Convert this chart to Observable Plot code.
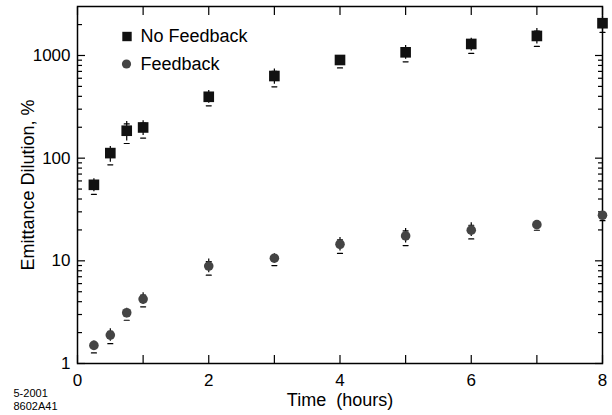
<!DOCTYPE html>
<html><head><meta charset="utf-8">
<script src="https://cdn.jsdelivr.net/npm/d3@7"></script>
<script src="https://cdn.jsdelivr.net/npm/@observablehq/plot@0.6"></script>
<style>
body{margin:0;background:#fff;}
#chart{width:612px;height:415px;}
#chart svg{font-family:"Liberation Sans",Arial,Helvetica,sans-serif;}
</style>
</head><body><div id="chart"></div>
<script>
// Data (time in hours, emittance dilution in %)
const times = [0.25, 0.5, 0.75, 1, 2, 3, 4, 5, 6, 7, 8];
const noFeedback   = [55, 112, 185, 199, 396, 631, 904, 1074, 1295, 1550, 2062];
const noFeedbackLo = [47, 91, 147, 166, 342, 524, 800, 918, 1107, 1295, 1775];
const noFeedbackHi = [63, 130, 228, 232, 456, 740, 995, 1250, 1475, 1830, 2400];
const feedback   = [1.50, 1.89, 3.12, 4.24, 8.9, 10.6, 14.5, 17.5, 19.9, 22.5, 27.8];
const feedbackLo = [1.34, 1.65, 2.79, 3.77, 7.67, 9.5, 12.5, 14.9, 17.3, 21.0, 26.0];
const feedbackHi = [1.66, 2.18, 3.45, 4.9, 10.4, 11.7, 16.9, 20.7, 23.5, 24.3, 29.9];

const seriesNames = ["No Feedback", "Feedback"];
const yMajor = [1, 10, 100, 1000];
const yMinor = [2,3,4,5,6,7,8,9,20,30,40,50,60,70,80,90,200,300,400,500,600,700,800,900,2000];
const xTicks = [0,1,2,3,4,5,6,7,8];
const xLabels = [0,2,4,6,8];
const xTitle = "Time\u00a0 (hours)";
const yTitle = "Emittance Dilution, %";
const stamp = ["5-2001", "8602A41"];

const nf = times.map((t, i) => ({t, v: noFeedback[i], lo: noFeedbackLo[i], hi: noFeedbackHi[i]}));
const fbd = times.map((t, i) => ({t, v: feedback[i], lo: feedbackLo[i], hi: feedbackHi[i]}));

const capShape = {draw(ctx, l) { ctx.moveTo(-l / 2, 0); ctx.lineTo(l / 2, 0); }};

function errorMarks(data, color) {
  return [
    Plot.ruleX(data, {x: "t", y1: "lo", y2: "hi", stroke: color, strokeWidth: 1.2}),
    Plot.vector(data, {x: "t", y: "lo", length: 5, rotate: 0, anchor: "middle", shape: capShape, stroke: color, strokeWidth: 1.2}),
    Plot.vector(data, {x: "t", y: "hi", length: 5, rotate: 0, anchor: "middle", shape: capShape, stroke: color, strokeWidth: 1.2})
  ];
}

const tickStyle = {stroke: "#000", strokeWidth: 1.2};

const chart = Plot.plot({
  width: 612,
  height: 415,
  marginLeft: 77,
  marginRight: 10,
  marginTop: 6,
  marginBottom: 52,
  style: {fontFamily: '"Liberation Sans", Arial, Helvetica, sans-serif', background: "#fff"},
  x: {domain: [0, 8]},
  y: {type: "log", domain: [1, 3000]},
  marks: [
    // labels
    Plot.axisY(yMajor, {anchor: "left", tickSize: 0, tickPadding: 7, fontSize: 17, label: null, tickFormat: d => String(d), fill: "#000"}),
    Plot.axisX(xLabels, {anchor: "bottom", tickSize: 0, tickPadding: 10, fontSize: 17, label: null, tickFormat: d => String(d), fill: "#000"}),
    // inward ticks
    Plot.axisY(yMajor, {anchor: "left", tickSize: 8, dx: 8, text: null, label: null, ...tickStyle}),
    Plot.axisY(yMinor, {anchor: "left", tickSize: 5, dx: 5, text: null, label: null, ...tickStyle}),
    Plot.axisY(yMajor, {anchor: "right", tickSize: 8, dx: -8, text: null, label: null, ...tickStyle}),
    Plot.axisY(yMinor, {anchor: "right", tickSize: 5, dx: -5, text: null, label: null, ...tickStyle}),
    Plot.axisX(xTicks, {anchor: "bottom", tickSize: 8, dy: -8, text: null, label: null, ...tickStyle}),
    Plot.axisX(xTicks, {anchor: "top", tickSize: 8, dy: 8, text: null, label: null, ...tickStyle}),
    Plot.frame({stroke: "#000", strokeWidth: 1.5}),
    // axis titles
    Plot.text([xTitle], {frameAnchor: "bottom", text: d => d, dy: 30, lineAnchor: "top", fontSize: 18, fill: "#000"}),
    Plot.text([yTitle], {frameAnchor: "left", text: d => d, dx: -49, rotate: -90, textAnchor: "middle", lineAnchor: "middle", fontSize: 18, fill: "#000"}),
    // stamp
    Plot.text([stamp[0]], {frameAnchor: "bottom-left", text: d => d, dx: -64, dy: 26, lineAnchor: "top", textAnchor: "start", fontSize: 11, fill: "#000"}),
    Plot.text([stamp[1]], {frameAnchor: "bottom-left", text: d => d, dx: -64, dy: 38.5, lineAnchor: "top", textAnchor: "start", fontSize: 11, fill: "#000"}),
    // data
    ...errorMarks(nf, "#000"),
    ...errorMarks(fbd, "#000"),
    Plot.dot(nf, {x: "t", y: "v", symbol: "square", r: 6, fill: "#111", stroke: "none"}),
    Plot.dot(fbd, {x: "t", y: "v", symbol: "circle", r: 4.8, fill: "#444", stroke: "none"}),
    // legend
    Plot.dot([seriesNames[0]], {frameAnchor: "top-left", dx: 49.5, dy: 30, symbol: "square", r: 5.3, fill: "#111", stroke: "none"}),
    Plot.dot([seriesNames[1]], {frameAnchor: "top-left", dx: 49, dy: 57.5, symbol: "circle", r: 4.6, fill: "#444", stroke: "none"}),
    Plot.text([seriesNames[0]], {frameAnchor: "top-left", text: d => d, dx: 63, dy: 30, textAnchor: "start", lineAnchor: "middle", fontSize: 18, fill: "#000"}),
    Plot.text([seriesNames[1]], {frameAnchor: "top-left", text: d => d, dx: 63, dy: 57.5, textAnchor: "start", lineAnchor: "middle", fontSize: 18, fill: "#000"})
  ]
});
document.getElementById("chart").appendChild(chart);
</script>
</body></html>
